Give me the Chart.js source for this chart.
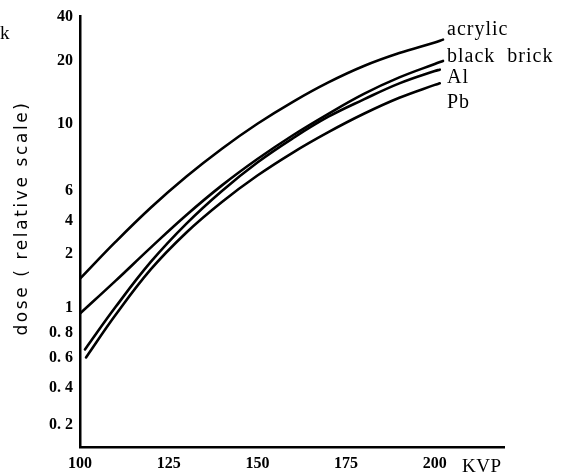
<!DOCTYPE html>
<html><head><meta charset="utf-8">
<script src="https://cdn.jsdelivr.net/npm/chart.js@4.4.1/dist/chart.umd.min.js"></script>
<style>html,body{margin:0;padding:0;background:#fff;}</style>
</head><body>
<canvas id="c" width="567" height="472"></canvas>
<script>
// ---- data ----
const seriesNames = ['acrylic', 'black  brick', 'Al', 'Pb'];
const acrylicKvp  = [100, 110, 120, 130, 140, 150, 160, 170, 180, 190, 200, 202.3];
const acrylicDose = [1.45, 2.57, 4.80, 6.70, 8.29, 10.05, 12.76, 15.76, 18.84, 22.5, 26.56, 27.8];
const brickKvp    = [100, 110, 120, 130, 140, 150, 160, 170, 180, 190, 200, 202.3];
const brickDose   = [0.948, 1.41, 2.29, 4.34, 6.26, 7.66, 9.19, 11.2, 13.91, 16.64, 19.26, 19.9];
const alKvp       = [101.4, 110, 120, 130, 140, 150, 160, 170, 180, 190, 200, 201.4];
const alDose      = [0.658, 1.006, 1.805, 3.79, 6.0, 7.46, 8.98, 10.85, 13.1, 15.6, 17.85, 18.1];
const pbKvp       = [101.7, 110, 120, 130, 140, 150, 160, 170, 180, 190, 200, 201.4];
const pbDose      = [0.60, 0.935, 1.639, 3.14, 5.17, 6.75, 8.05, 9.41, 11.2, 13.33, 15.34, 15.6];

const xTicks = [100, 125, 150, 175, 200];
const yTickValues = [0.2, 0.4, 0.6, 0.8, 1, 2, 4, 6, 10, 20, 40];
const yTickLabels = ['0. 2', '0. 4', '0. 6', '0. 8', '1', '2', '4', '6', '10', '20', '40'];
// irregular (hand-drawn) axis: where each tick sits along the axis height
const yAxisBottomValue = 0.1;
const yTickPlacement = [0.051, 0.137, 0.208, 0.266, 0.324, 0.449, 0.525, 0.595, 0.75, 0.898, 1.0];

// ---- custom scale: piecewise logarithmic between the printed ticks ----
class PiecewiseLogScale extends Chart.LinearScale {
  determineDataLimits() {
    this.min = yAxisBottomValue;
    this.max = yTickValues[yTickValues.length - 1];
  }
  buildTicks() { return yTickValues.map(v => ({ value: v })); }
  _dec(v) {
    const vals = [yAxisBottomValue, ...yTickValues];
    const fr = [0, ...yTickPlacement];
    if (v <= vals[0]) return 0;
    for (let i = 1; i < vals.length; i++) {
      if (v <= vals[i]) {
        const t = Math.log(v / vals[i - 1]) / Math.log(vals[i] / vals[i - 1]);
        return fr[i - 1] + t * (fr[i] - fr[i - 1]);
      }
    }
    return 1;
  }
  getPixelForValue(v) {
    if (v === null || v === undefined || isNaN(v)) return NaN;
    return this.getPixelForDecimal(this._dec(v));
  }
  getValueForPixel(p) {
    const d = this.getDecimalForPixel(p);
    const vals = [yAxisBottomValue, ...yTickValues];
    const fr = [0, ...yTickPlacement];
    for (let i = 1; i < vals.length; i++) {
      if (d <= fr[i]) {
        const t = (d - fr[i - 1]) / (fr[i] - fr[i - 1]);
        return vals[i - 1] * Math.pow(vals[i] / vals[i - 1], t);
      }
    }
    return vals[vals.length - 1];
  }
}
PiecewiseLogScale.id = 'piecewiseLog';
PiecewiseLogScale.defaults = Chart.LinearScale.defaults;
Chart.register(PiecewiseLogScale);

const toPts = (xs, ys) => xs.map((x, i) => ({ x: x, y: ys[i] }));
const lineStyle = { borderColor: '#000', borderWidth: 2.6, pointRadius: 0, fill: false, tension: 0.4,
                    borderCapStyle: 'round', borderJoinStyle: 'round' };

const textPlugin = {
  id: 'texts',
  afterDraw(chart) {
    const ctx = chart.ctx;
    ctx.save();
    ctx.fillStyle = '#000';
    // series labels
    ctx.font = '20px "Liberation Serif"';
    ctx.letterSpacing = '1px';
    ctx.textAlign = 'left';
    ctx.textBaseline = 'middle';
    const labelY = [30, 57, 78, 103];
    seriesNames.forEach((n, i) => ctx.fillText(n, 447, labelY[i]));
    // KVP
    ctx.font = '19px "Liberation Serif"';
    ctx.letterSpacing = '0.5px';
    ctx.fillText('KVP', 462, 467);
    // stray k at the left edge
    ctx.fillText('k', 0, 34);
    // y title
    ctx.font = '17px "DejaVu Sans"';
    ctx.letterSpacing = '2.6px';
    ctx.translate(23, 218);
    ctx.rotate(-Math.PI / 2);
    ctx.textAlign = 'center';
    ctx.fillText('dose ( relative scale)', 0, 0);
    ctx.restore();
  }
};

new Chart(document.getElementById('c'), {
  type: 'line',
  data: {
    datasets: [
      Object.assign({ label: seriesNames[0], data: toPts(acrylicKvp, acrylicDose) }, lineStyle),
      Object.assign({ label: seriesNames[1], data: toPts(brickKvp, brickDose) }, lineStyle),
      Object.assign({ label: seriesNames[2], data: toPts(alKvp, alDose) }, lineStyle),
      Object.assign({ label: seriesNames[3], data: toPts(pbKvp, pbDose) }, lineStyle)
    ]
  },
  options: {
    responsive: false,
    devicePixelRatio: 1,
    animation: false,
    layout: { padding: { left: 0, top: 15, right: 63, bottom: 0 } },
    plugins: { legend: { display: false }, tooltip: { enabled: false } },
    scales: {
      x: {
        type: 'linear', min: 100, max: 219.5,
        afterBuildTicks: s => { s.ticks = xTicks.map(v => ({ value: v })); },
        afterFit: s => { s.height = 25; },
        grid: { display: false, drawTicks: false },
        border: { display: true, color: '#000', width: 2.5 },
        ticks: { color: '#000', padding: 7, autoSkip: false, maxRotation: 0,
                 font: { family: 'Liberation Serif', size: 16, weight: 'bold' } }
      },
      y: {
        type: 'piecewiseLog',
        afterFit: s => { s.width = 80; },
        grid: { display: false, drawTicks: false },
        border: { display: true, color: '#000', width: 2.5 },
        ticks: { color: '#000', padding: 7, autoSkip: false,
                 callback: (v, i) => yTickLabels[i],
                 font: { family: 'Liberation Serif', size: 16, weight: 'bold' } }
      }
    }
  },
  plugins: [textPlugin]
});
</script>
</body></html>
